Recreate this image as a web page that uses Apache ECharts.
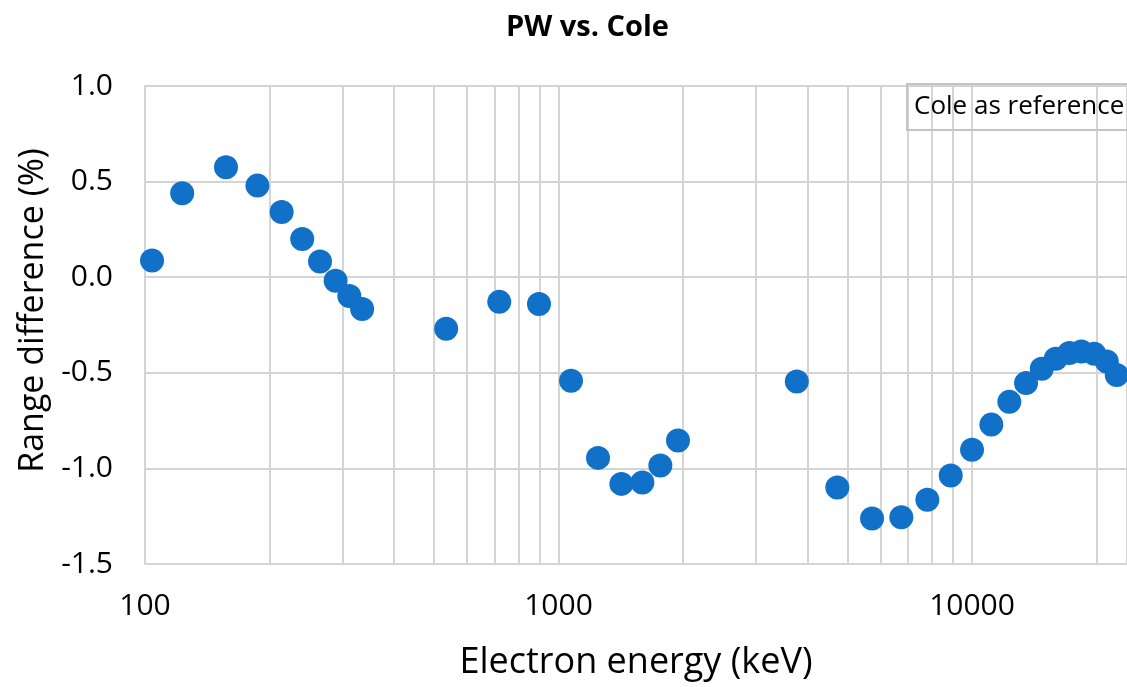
<!DOCTYPE html>
<html>
<head>
<meta charset="utf-8">
<script src="https://cdn.jsdelivr.net/npm/echarts@6/dist/echarts.min.js"></script>
<style>
  html, body { margin: 0; padding: 0; background: #ffffff; }
  #chart { width: 1127px; height: 687px; }
</style>
</head>
<body>
<div id="chart"></div>
<script>
// Electron energy (keV)
const energies = [104, 123, 157, 187, 214, 240, 265, 289, 312, 335,
                  535, 719, 897, 1072, 1246, 1419, 1595, 1763, 1945,
                  3769, 4723, 5731, 6745, 7797, 8881, 10000, 11136, 12308,
                  13509, 14744, 15939, 17196, 18384, 19760, 21176, 22387];
// Range difference (%)
const rangeDiff = [0.087, 0.439, 0.575, 0.479, 0.341, 0.200, 0.082, -0.019, -0.098, -0.166,
                   -0.270, -0.129, -0.140, -0.542, -0.945, -1.081, -1.074, -0.985, -0.854,
                   -0.546, -1.100, -1.262, -1.255, -1.164, -1.037, -0.903, -0.771, -0.652,
                   -0.554, -0.479, -0.427, -0.397, -0.389, -0.401, -0.441, -0.511];
// Minor vertical grid values of the log axis
const minorGridValues = [200, 300, 400, 500, 600, 700, 800, 900,
                         2000, 3000, 4000, 5000, 6000, 7000, 8000, 9000, 20000];
const yTicks = { min: -1.5, max: 1.0, interval: 0.5 };
const xRange = { min: 100, max: 23700 };

const FONT = "'Open Sans', 'Liberation Sans', sans-serif";
const GRID_COLOR = '#d4d4d4';

const chart = echarts.init(document.getElementById('chart'), null, { renderer: 'canvas' });
chart.setOption({
  animation: false,
  backgroundColor: '#ffffff',
  title: [
    {
      text: 'PW vs. Cole',
      left: 501,
      top: 8,
      textStyle: { fontFamily: FONT, fontWeight: 'bold', fontSize: 29, color: '#000' }
    },
    {
      text: 'Cole as reference',
      left: 907,
      top: 84,
      padding: [9, 30, 9, 7],
      borderColor: '#c4c4c4',
      borderWidth: 2,
      backgroundColor: 'transparent',
      textStyle: { fontFamily: FONT, fontWeight: 'normal', fontSize: 26, color: '#000', lineHeight: 28 }
    }
  ],
  grid: { left: 145, top: 86, bottom: 123, right: 0, containLabel: false },
  xAxis: {
    type: 'log',
    logBase: 10,
    min: xRange.min,
    max: xRange.max,
    name: 'Electron energy (keV)',
    nameLocation: 'middle',
    nameGap: 81,
    nameTextStyle: { fontFamily: FONT, fontSize: 36, color: '#000' },
    axisLine: { show: true, lineStyle: { color: GRID_COLOR, width: 2 } },
    axisTick: { show: false },
    splitLine: { show: true, lineStyle: { color: GRID_COLOR, width: 2 } },
    minorTick: { show: false },
    axisLabel: {
      margin: 27,
      showMaxLabel: false,
      fontFamily: FONT, fontSize: 30, color: '#000',
      formatter: v => {
        const p = Math.log10(v);
        return Math.abs(p - Math.round(p)) < 1e-6 ? String(Math.round(v)) : '';
      }
    }
  },
  yAxis: {
    type: 'value',
    min: yTicks.min,
    max: yTicks.max,
    interval: yTicks.interval,
    name: 'Range difference (%)',
    nameLocation: 'middle',
    nameGap: 92,
    nameRotate: 90,
    nameTextStyle: { fontFamily: FONT, fontSize: 34, color: '#000', padding: [0, 0, 0, 29] },
    axisLine: { show: true, lineStyle: { color: GRID_COLOR, width: 2 } },
    axisTick: { show: false },
    splitLine: { show: true, lineStyle: { color: GRID_COLOR, width: 2 } },
    axisLabel: {
      margin: 32,
      fontFamily: FONT, fontSize: 30, color: '#000',
      formatter: v => v.toFixed(1)
    }
  },
  series: [
    {
      type: 'scatter',
      z: 3,
      symbol: 'circle',
      symbolSize: 24,
      itemStyle: { color: '#1170c8', opacity: 1 },
      data: energies.map((e, i) => [e, rangeDiff[i]]),
      markLine: {
        z: 1,
        silent: true,
        animation: false,
        symbol: ['none', 'none'],
        label: { show: false },
        lineStyle: { type: 'solid', color: GRID_COLOR, width: 2 },
        emphasis: { disabled: true },
        data: minorGridValues.map(v => ({ xAxis: v }))
      }
    }
  ]
});
</script>
</body>
</html>
